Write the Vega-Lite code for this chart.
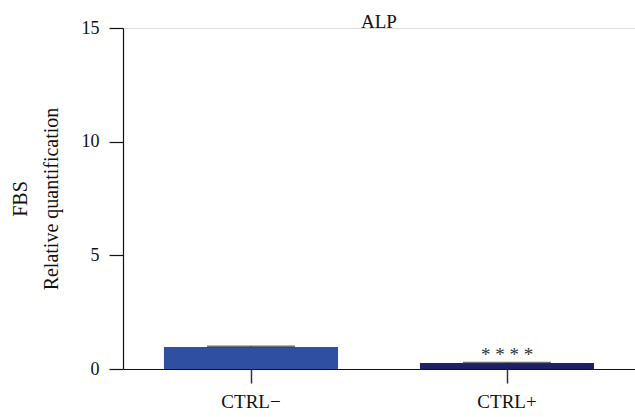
{
  "$schema": "https://vega.github.io/schema/vega-lite/v6.json",
  "width": 512,
  "height": 341,
  "autosize": "none",
  "padding": {"left": 123, "top": 28, "right": 0, "bottom": 48},
  "background": "white",
  "title": {"text": "ALP", "font": "Liberation Serif", "fontSize": 19, "fontWeight": "normal", "color": "#111", "anchor": "middle", "offset": -13, "frame": "group"},
  "data": {"values": [
    {"group": "CTRL−", "value": 0.97, "err": 0.02, "sig": ""},
    {"group": "CTRL+", "value": 0.26, "err": 0.02, "sig": "* * * *"}
  ]},
  "encoding": {
    "x": {"field": "group", "type": "nominal", "sort": ["CTRL−", "CTRL+"],
      "scale": {"paddingInner": 0.32, "paddingOuter": 0.16, "align": 0.5},
      "axis": {"title": null, "labelAngle": 0, "labelFont": "Liberation Serif", "labelFontSize": 19, "labelColor": "#111", "labelPadding": 9, "tickSize": 14, "tickColor": "#333", "domainColor": "#111", "domainWidth": 1.2, "tickWidth": 1.5}}
  },
  "layer": [
    {"mark": {"type": "bar"},
     "encoding": {
       "y": {"field": "value", "type": "quantitative", "scale": {"domain": [0, 15], "nice": false},
         "axis": {"values": [0, 5, 10, 15], "grid": false, "title": ["FBS", "Relative quantification"], "titleFont": "Liberation Serif", "titleFontSize": 20, "titleFontWeight": "normal", "titleColor": "#111", "titleLineHeight": 31, "titlePadding": 20, "labelFont": "Liberation Serif", "labelFontSize": 18, "labelColor": "#111", "labelPadding": 10, "tickSize": 14, "tickColor": "#111", "domainColor": "#111", "domainWidth": 1.2, "tickWidth": 1.2}},
       "color": {"field": "group", "type": "nominal", "scale": {"domain": ["CTRL−", "CTRL+"], "range": ["#2F4FA2", "#1E2066"]}, "legend": null}
     }},
    {"transform": [{"calculate": "datum.value + datum.err", "as": "hi"}],
     "mark": {"type": "rule", "color": "#222", "strokeWidth": 1.5},
     "encoding": {"y": {"field": "value", "type": "quantitative"}, "y2": {"field": "hi"}}},
    {"transform": [{"calculate": "datum.value + datum.err", "as": "hi"}],
     "mark": {"type": "tick", "color": "#333", "size": 88, "thickness": 2},
     "encoding": {"y": {"field": "hi", "type": "quantitative"}}},
    {"mark": {"type": "text", "font": "Liberation Serif", "fontSize": 19, "color": "#333", "dy": -2, "baseline": "alphabetic"},
     "encoding": {"y": {"field": "value", "type": "quantitative"}, "text": {"field": "sig"}}}
  ]
}
